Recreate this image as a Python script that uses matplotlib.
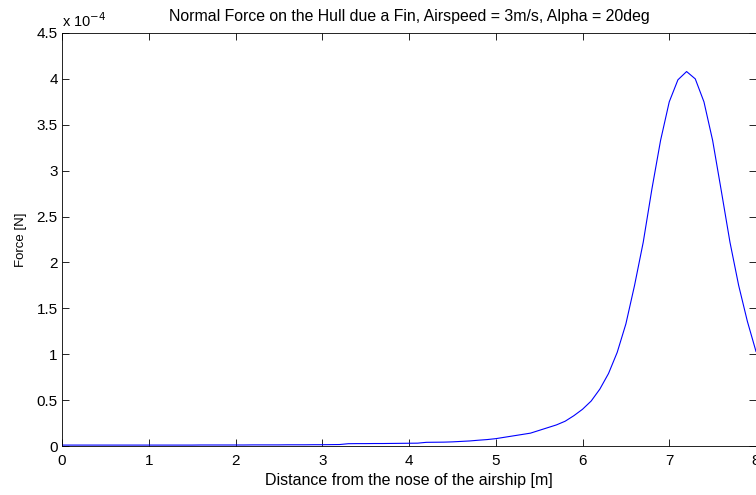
import numpy as np
import matplotlib.pyplot as plt
from matplotlib.ticker import FuncFormatter

# normal force along the hull (units of 1e-4 N), sampled every 0.1 m
dist = np.round(np.arange(0, 81) * 0.1, 1)
force = [
    0.010, 0.010, 0.010, 0.010, 0.010, 0.010, 0.010, 0.010, 0.010, 0.010,
    0.010, 0.010, 0.010, 0.010, 0.010, 0.010, 0.011, 0.011, 0.011, 0.011,
    0.011, 0.011, 0.012, 0.012, 0.012, 0.012, 0.013, 0.013, 0.013, 0.014,
    0.014, 0.015, 0.016, 0.025, 0.026, 0.026, 0.027, 0.027, 0.028, 0.029,
    0.030, 0.031, 0.040, 0.041, 0.042, 0.045, 0.050, 0.055, 0.063, 0.070,
    0.080, 0.095, 0.110, 0.125, 0.140, 0.170, 0.200, 0.230, 0.270, 0.330,
    0.400, 0.490, 0.620, 0.790, 1.020, 1.330, 1.750, 2.220, 2.800, 3.330,
    3.750, 3.990, 4.080, 4.000, 3.750, 3.330, 2.780, 2.220, 1.750, 1.360,
    1.030,
]

plt.rcParams['font.family'] = ['Liberation Sans', 'DejaVu Sans']
plt.rcParams['font.size'] = 9.5

fig = plt.figure(figsize=(7.56, 4.95), dpi=100)
ax = fig.add_axes([62 / 756, 49 / 495, 694 / 756, 413 / 495])
ax.plot(dist, force, color='blue', lw=0.8)

ax.set_xlim(0, 8)
ax.set_ylim(0, 4.5)
ax.set_xticks(np.arange(0, 9, 1))
ax.set_yticks(np.arange(0, 4.51, 0.5))
fmt = FuncFormatter(lambda v, p: '%g' % v)
ax.xaxis.set_major_formatter(fmt)
ax.yaxis.set_major_formatter(fmt)
ax.tick_params(direction='in', top=True, right=True, length=5, width=0.6,
               labelsize=11)
ax.tick_params(axis='x', pad=6)
ax.tick_params(axis='y', pad=3)
for s in ax.spines.values():
    s.set_linewidth(0.6)

ax.set_xlabel('Distance from the nose of the airship [m]', fontsize=11.5,
              labelpad=3)
ax.set_ylabel('Force [N]', labelpad=7)
ax.set_title('Normal Force on the Hull due a Fin, Airspeed = 3m/s, Alpha = 20deg', pad=9)
ax.text(0, 1.008, r'x 10$^{-4}$', transform=ax.transAxes, ha='left',
        va='bottom', fontsize=10.5)

fig.savefig('out.png', dpi=100)
